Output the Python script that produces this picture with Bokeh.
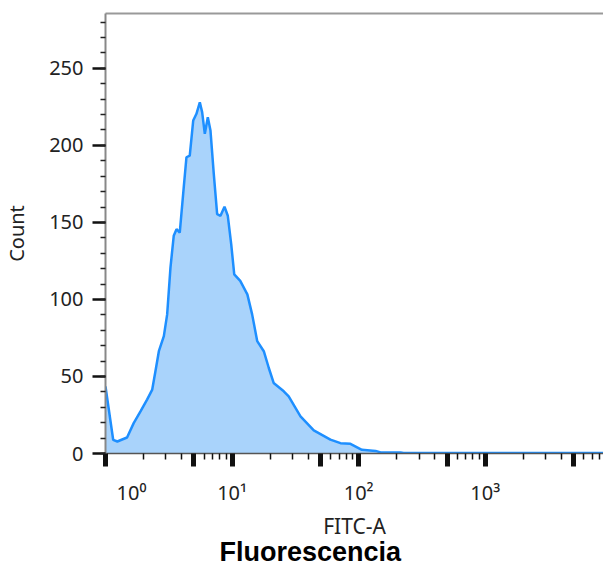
from bokeh.plotting import figure
from bokeh.models import Range1d, LogAxis, FixedTicker, SingleIntervalTicker, Title
from bokeh.embed import file_html
from bokeh.resources import INLINE

# ---- data ----
fitc = [1.00, 1.15, 1.24, 1.48, 1.67, 1.89, 2.13, 2.34, 2.48, 2.64, 2.89, 3.07,
        3.26, 3.46, 3.64, 3.86, 4.15, 4.36, 4.63, 4.93, 5.23, 5.56, 5.80, 6.09,
        6.43, 6.75, 7.17, 7.62, 8.10, 8.71, 9.25, 9.84, 10.4, 11.6, 13.2, 14.4,
        15.8, 17.8, 19.5, 21.3, 25.6, 28.0, 34.7, 44.2, 59.8, 71.8, 86.1, 106.0,
        136.0, 149.0, 214.0, 226.0, 500.0, 1000.0, 3000.0, 8600.0]
count = [43.6, 8.9, 7.8, 10.4, 19.7, 27.3, 35.0, 41.5, 53.4, 66.4, 76.2, 90.3,
         120.7, 141.3, 145.6, 143.4, 172.7, 192.3, 193.4, 216.1, 220.5, 228.0, 221.6, 207.5,
         218.3, 209.6, 181.4, 155.4, 154.3, 160.2, 154.3, 135.9, 116.3, 112.0, 103.3, 90.3,
         72.9, 66.4, 55.5, 45.8, 40.4, 37.1, 24.1, 15.0, 9.0, 6.7, 6.3, 2.4,
         1.7, 0.7, 0.7, 0.3, 0.3, 0.3, 0.3, 0.3]

decade_ticks = [1, 10, 100, 1000]
decade_labels = ["\u00a0" * 10 + "10\u2070", "10\u00b9", "10\u00b2", "10\u00b3"]
half_ticks = [5, 50, 500, 5000]
minor_x = [2, 3, 4, 6, 7, 8, 9,
           20, 30, 40, 60, 70, 80, 90,
           200, 300, 400, 600, 700, 800, 900,
           2000, 3000, 4000, 6000, 7000, 8000]

x_label = "FITC-A"
y_label = "Count"
caption = "Fluorescencia"

p = figure(width=603, height=566, x_axis_type="log",
           x_range=Range1d(1, 8590), y_range=Range1d(0, 285.6),
           output_backend="svg", toolbar_location=None,
           min_border_left=105, min_border_right=0,
           min_border_top=13, min_border_bottom=113)
p.outline_line_color = None
p.grid.visible = False
p.background_fill_color = "white"
p.border_fill_color = "white"

# histogram
p.varea(x=fitc, y1=0, y2=count, fill_color="#a9d3fb", fill_alpha=1.0)
p.line(x=fitc, y=count, line_color="#1e8fff", line_width=2.5)

# x axis
xa = p.below[0]
xa.ticker = FixedTicker(ticks=decade_ticks + half_ticks, minor_ticks=minor_x)
ov = {t: lab for t, lab in zip(decade_ticks, decade_labels)}
for t in half_ticks:
    ov[t] = ""
xa.major_label_overrides = ov
xa.major_tick_line_width = 5
xa.major_tick_line_color = "#111111"
xa.major_tick_out = 13
xa.major_tick_in = 0
xa.minor_tick_line_width = 1.5
xa.minor_tick_line_color = "#111111"
xa.minor_tick_out = 6
xa.minor_tick_in = 0
xa.axis_line_color = "#555555"
xa.axis_line_width = 1.5
xa.major_label_text_font = "Noto Sans"
xa.major_label_text_font_size = "20px"
xa.major_label_text_color = "#222222"
xa.major_label_standoff = 12
xa.axis_label = x_label
xa.axis_label_text_font = "Noto Sans"
xa.axis_label_text_font_size = "21px"
xa.axis_label_text_font_style = "normal"
xa.axis_label_text_color = "#222222"
xa.axis_label_standoff = 3

# caption under the axis title
cap = Title(text=caption, align="left", offset=114, standoff=-12, vertical_align="top",
            text_font="Liberation Sans", text_font_style="bold",
            text_font_size="27px", text_color="black")
p.add_layout(cap, "below")

# top border as an empty axis
top = LogAxis(ticker=FixedTicker(ticks=[]), axis_line_color="#999999",
              axis_line_width=2, major_tick_line_color=None, minor_tick_line_color=None)
p.add_layout(top, "above")

# y axis
ya = p.left[0]
ya.ticker = SingleIntervalTicker(interval=50, num_minor_ticks=5)
ya.major_tick_line_width = 2.5
ya.major_tick_line_color = "#111111"
ya.major_tick_out = 13
ya.major_tick_in = 0
ya.minor_tick_line_width = 1.5
ya.minor_tick_line_color = "#222222"
ya.minor_tick_out = 5
ya.minor_tick_in = 0
ya.axis_line_color = "#888888"
ya.axis_line_width = 2
ya.major_label_text_font = "Noto Sans"
ya.major_label_text_font_size = "20px"
ya.major_label_text_color = "#222222"
ya.major_label_standoff = 9
ya.axis_label = y_label
ya.axis_label_text_font = "Noto Sans"
ya.axis_label_text_font_size = "20px"
ya.axis_label_text_font_style = "normal"
ya.axis_label_text_color = "#222222"
ya.axis_label_standoff = 16

open("out.html", "w").write(file_html(p, INLINE))
